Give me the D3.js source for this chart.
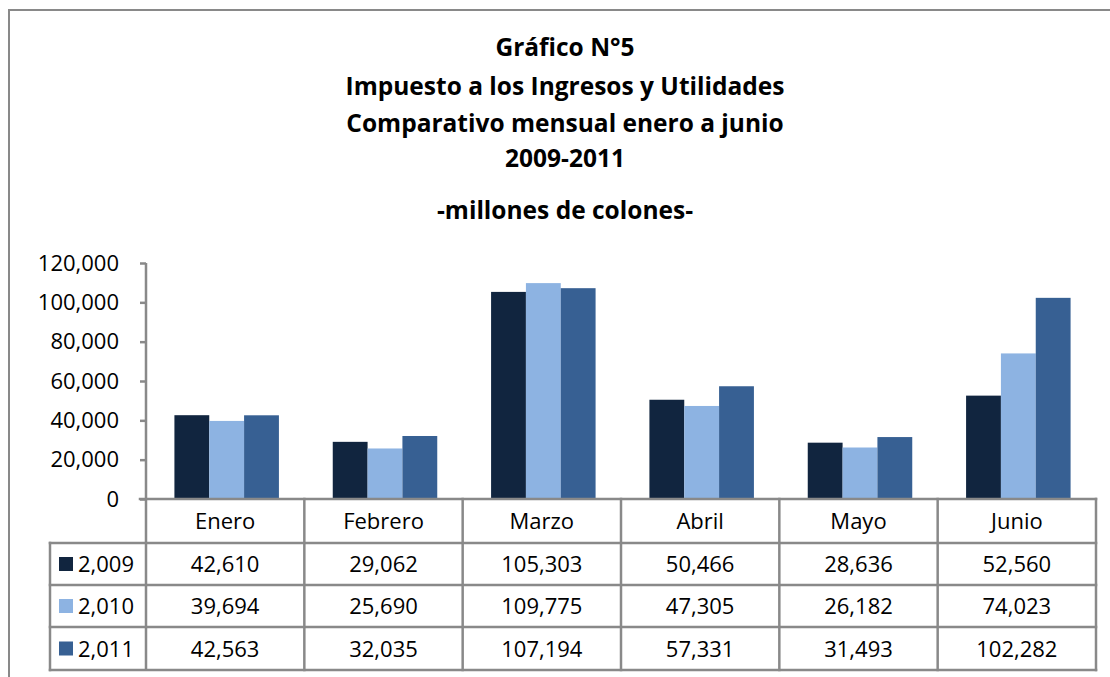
<!DOCTYPE html>
<html><head><meta charset="utf-8">
<script src="https://cdn.jsdelivr.net/npm/d3@7"></script>
<style>body{margin:0;background:#fff}svg{display:block}text{font-family:"Open Sans",Lato,sans-serif;fill:#000}</style>
</head><body>
<svg id="c" width="1110" height="677"></svg>
<script>
const titleLines = ["Gráfico N°5","Impuesto a los Ingresos y Utilidades","Comparativo mensual enero a junio","2009-2011"];
const subtitle = "-millones de colones-";
const months = ["Enero","Febrero","Marzo","Abril","Mayo","Junio"];
const seriesNames = ["2,009","2,010","2,011"];
const v2009 = [42610,29062,105303,50466,28636,52560];
const v2010 = [39694,25690,109775,47305,26182,74023];
const v2011 = [42563,32035,107194,57331,31493,102282];
const yTicks = [0,20000,40000,60000,80000,100000,120000];
const colors = ["#11253F","#8DB3E2","#376093"];

const series = [v2009,v2010,v2011];
const svg = d3.select("#c");
const grey = "#898989";
const fmt = d3.format(",");
const FS = 22, TFS = 24.5;

// outer frame
svg.append("rect").attr("x",9).attr("y",10).attr("width",1200).attr("height",800)
  .attr("fill","none").attr("stroke",grey).attr("stroke-width",2);

// titles
const titleY = [56,95,132,167];
titleLines.forEach((t,i)=>{
  svg.append("text").attr("x",565).attr("y",titleY[i]).attr("text-anchor","middle")
    .attr("font-size",TFS).attr("font-weight","bold").text(t);
});
svg.append("text").attr("x",565).attr("y",219).attr("text-anchor","middle")
  .attr("font-size",TFS).attr("font-weight","bold").text(subtitle);

const x0 = 146, x1 = 1096, yBase = 499, yTop = 263;
const x = d3.scaleBand().domain(months).range([x0,x1]).paddingInner(0).paddingOuter(0);
const y = d3.scaleLinear().domain([0,120000]).range([yBase,yTop]);
const bw = x.bandwidth()*0.22;
const off = (x.bandwidth()-3*bw)/2 + 1.5;

// bars
series.forEach((s,si)=>{
  svg.append("g").selectAll("rect").data(months).join("rect")
    .attr("x",m=>x(m)+off+si*bw)
    .attr("y",(m,i)=>y(s[i]))
    .attr("width",bw)
    .attr("height",(m,i)=>yBase-y(s[i]))
    .attr("fill",colors[si]);
});

// y axis
const ya = svg.append("g").attr("transform",`translate(${x0},0)`)
  .call(d3.axisLeft(y).tickValues(yTicks).tickFormat(fmt).tickSize(6).tickPadding(21));
ya.select(".domain").remove();
ya.selectAll("line").attr("stroke",grey).attr("stroke-width",2.5);
ya.selectAll("text").attr("font-size",FS).attr("font-family","Open Sans").attr("fill","#000");
svg.append("line").attr("x1",x0).attr("x2",x0).attr("y1",yTop).attr("y2",670)
  .attr("stroke",grey).attr("stroke-width",2.5);

// table
const rowY = [499,543,585,627,670];
const tbl = svg.append("g");
const L = 50;
tbl.append("line").attr("x1",x0-6).attr("x2",x1).attr("y1",rowY[0]).attr("y2",rowY[0]);
[1,2,3,4].forEach(i=>tbl.append("line").attr("x1",L).attr("x2",x1).attr("y1",rowY[i]).attr("y2",rowY[i]));
months.forEach(m=>tbl.append("line").attr("x1",x(m)+x.bandwidth()).attr("x2",x(m)+x.bandwidth()).attr("y1",rowY[0]).attr("y2",rowY[4]));
tbl.append("line").attr("x1",L).attr("x2",L).attr("y1",rowY[1]).attr("y2",rowY[4]);
tbl.selectAll("line").attr("stroke",grey).attr("stroke-width",2.5).attr("stroke-linecap","square");

// header text
svg.append("g").selectAll("text").data(months).join("text")
  .attr("x",m=>x(m)+x.bandwidth()/2).attr("y",(rowY[0]+rowY[1])/2+8)
  .attr("text-anchor","middle").attr("font-size",FS).text(m=>m);

series.forEach((s,si)=>{
  const cy = (rowY[si+1]+rowY[si+2])/2;
  svg.append("rect").attr("x",59).attr("y",cy-7).attr("width",14).attr("height",14).attr("fill",colors[si]);
  svg.append("text").attr("x",78).attr("y",cy+8).attr("font-size",FS).text(seriesNames[si]);
  svg.append("g").selectAll("text").data(months).join("text")
    .attr("x",m=>x(m)+x.bandwidth()/2).attr("y",cy+8)
    .attr("text-anchor","middle").attr("font-size",FS).text((m,i)=>fmt(s[i]));
});
</script>
</body></html>
